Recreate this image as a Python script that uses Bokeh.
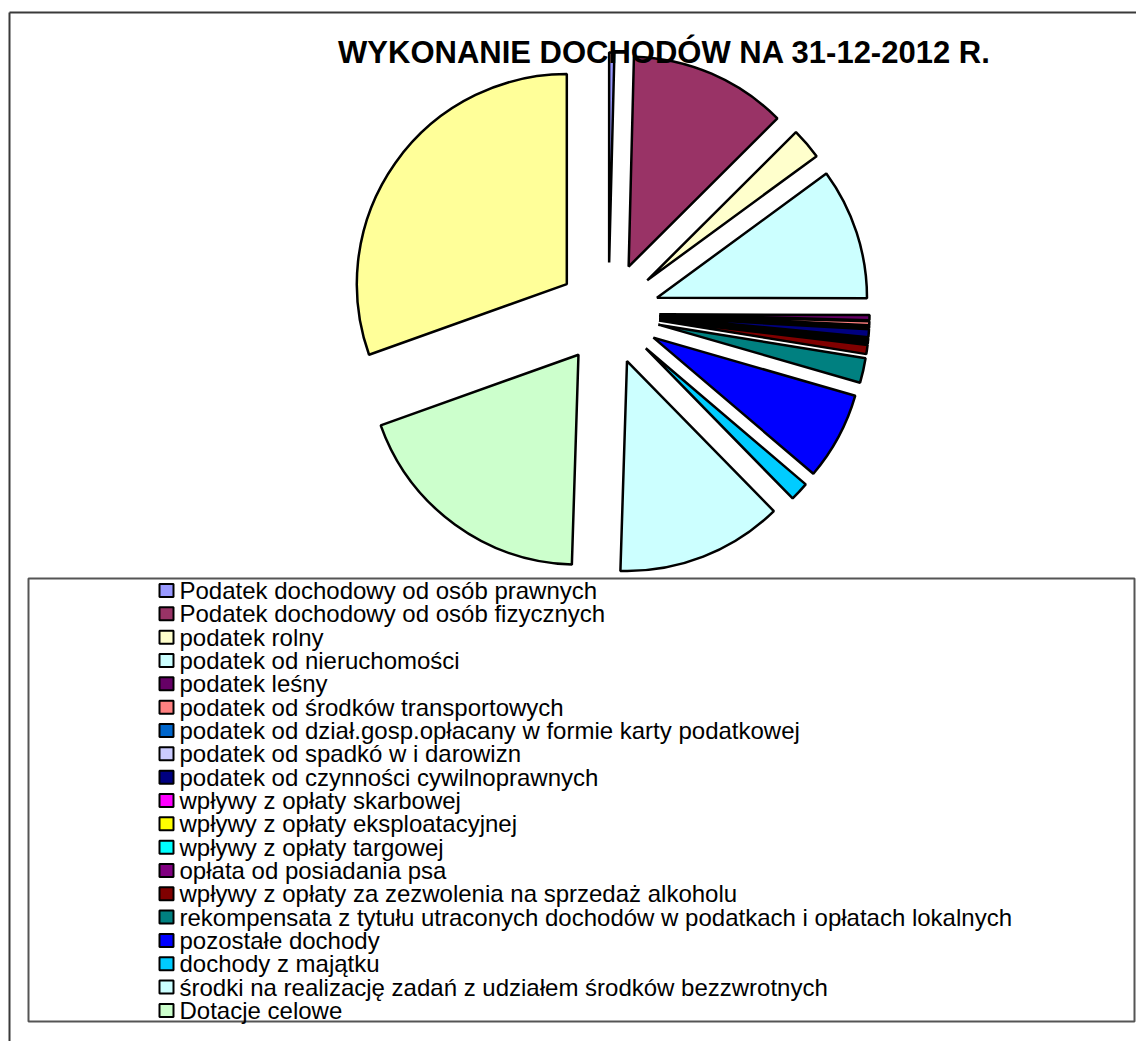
import numpy as np
from bokeh.plotting import figure
from bokeh.models import Range1d, ColumnDataSource
from bokeh.core.properties import value
from bokeh.embed import file_html
from bokeh.resources import INLINE

# ---------------- data ----------------
title = "WYKONANIE DOCHODÓW NA 31-12-2012 R."

categories = [
    "Podatek dochodowy od osób prawnych",
    "Podatek dochodowy od osób fizycznych",
    "podatek rolny",
    "podatek od nieruchomości",
    "podatek leśny",
    "podatek od środków transportowych",
    "podatek od dział.gosp.opłacany w formie karty podatkowej",
    "podatek od spadkó w i darowizn",
    "podatek od czynności cywilnoprawnych",
    "wpływy z opłaty skarbowej",
    "wpływy z opłaty eksploatacyjnej",
    "wpływy z opłaty targowej",
    "opłata od posiadania psa",
    "wpływy z opłaty za zezwolenia na sprzedaż alkoholu",
    "rekompensata z tytułu utraconych dochodów w podatkach i opłatach lokalnych",
    "pozostałe dochody",
    "dochody z majątku",
    "środki na realizację zadań z udziałem środków bezzwrotnych",
    "Dotacje celowe",
    "",  # 20th slice: not shown in the legend of the original
]

# estimated shares (%)
shares = [0.4, 12.1, 2.4, 10.1, 0.4, 0.3, 0.05, 0.1, 0.6, 0.2,
          0.02, 0.1, 0.03, 0.7, 1.9, 6.75, 1.45, 12.8, 19.0, 30.4]

colors = ["#9999FF", "#993366", "#FFFFCC", "#CCFFFF", "#660066",
          "#FF8080", "#0066CC", "#CCCCFF", "#000080", "#FF00FF",
          "#FFFF00", "#00FFFF", "#800080", "#800000", "#008080",
          "#0000FF", "#00CCFF", "#CCFFFF", "#CCFFCC", "#FFFF99"]

n_legend = 19

# ---------------- layout ----------------
W, H = 1136, 1041
FONT = "Liberation Sans"

def X(px):
    return px

def Y(py):
    return H - py

p = figure(width=W, height=H, x_range=Range1d(0, W), y_range=Range1d(0, H),
           output_backend="svg", toolbar_location=None,
           x_axis_type=None, y_axis_type=None, min_border=0,
           outline_line_color=None, background_fill_color="white",
           border_fill_color="white")

# outer chart frame (left and top edges visible)
p.line(x=[X(9), X(9)], y=[Y(1060), Y(12)], line_color="#3a3a3a", line_width=2)
p.line(x=[X(9), X(1200)], y=[Y(12), Y(12)], line_color="#3a3a3a", line_width=2)

# ---------------- exploded pie ----------------
vals = np.array(shares, dtype=float)
frac = vals / vals.sum()
ends = np.cumsum(frac) * 360.0
starts = ends - frac * 360.0
mid = (starts + ends) / 2.0

cx, cy = X(608), Y(313)
R = 210
D = 51
src = ColumnDataSource(dict(
    x=cx + D * np.sin(np.radians(mid)),
    y=cy + D * np.cos(np.radians(mid)),
    s=np.radians(90.0 - ends),
    e=np.radians(90.0 - starts),
    color=colors,
    cat=categories,
))
p.wedge(x="x", y="y", radius=R, start_angle="s", end_angle="e",
        fill_color="color", line_color="black", line_width=2.5, source=src)

# ---------------- title ----------------
p.text(x=[X(664)], y=[Y(52)], text=[title], text_align="center",
       text_baseline="alphabetic", text_font=value(FONT),
       text_font_style="bold", text_font_size="31px", text_color="black")

# ---------------- legend ----------------
p.quad(left=X(28), right=X(1134), top=Y(578), bottom=Y(1021),
       fill_color=None, line_color="#555555", line_width=2)

row_step = 23.33
ly = np.array([Y(590) - row_step * i for i in range(n_legend)])
p.rect(x=[X(166)] * n_legend, y=ly, width=14, height=13,
       fill_color=colors[:n_legend], line_color="black", line_width=2)
p.text(x=[X(179)] * n_legend, y=ly, text=categories[:n_legend],
       text_align="left", text_baseline="middle", text_font=value(FONT),
       text_font_size="24px", text_color="black")

open("out.html", "w").write(file_html(p, INLINE))
